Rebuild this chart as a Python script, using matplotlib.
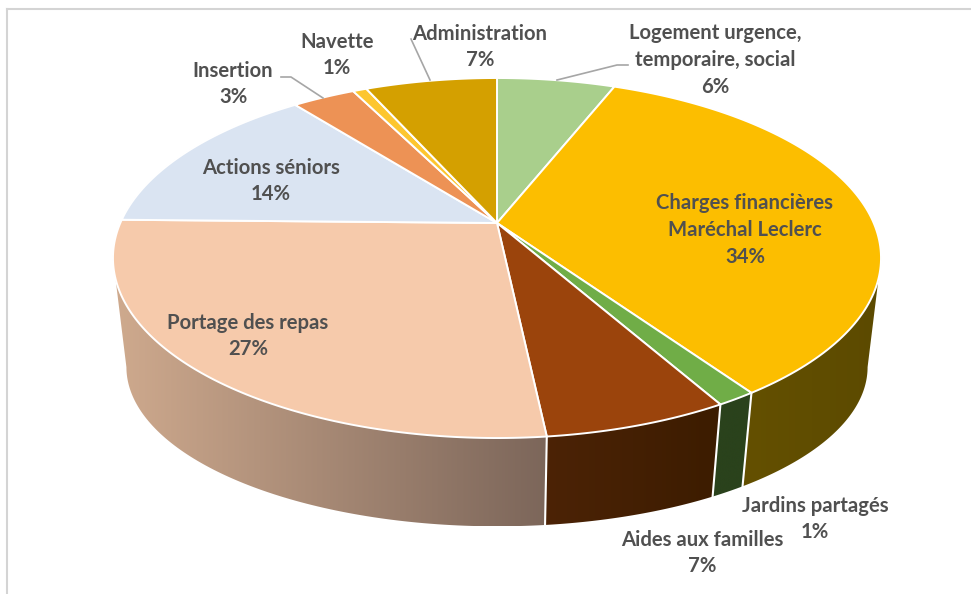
import matplotlib
matplotlib.use("Agg")
import matplotlib.pyplot as plt
from matplotlib.patches import Polygon
import numpy as np

# slices, clockwise from the top
names = ["Logement urgence,\ntemporaire, social", "Charges financières\nMaréchal Leclerc", "Jardins partagés",
         "Aides aux familles", "Portage des repas", "Actions séniors", "Insertion", "Navette", "Administration"]
shares = [6.0, 34.4, 1.4, 6.5, 27.0, 14.1, 3.2, 0.7, 6.7]
pct_labels = ["6%", "34%", "1%", "7%", "27%", "14%", "3%", "1%", "7%"]

top_colors = ["#A9CF8C", "#FCBE00", "#70AD47", "#9B440C", "#F6CAAB", "#DAE4F2", "#ED9255", "#FDC62F", "#D4A000"]
side_left = ["#6A8255", "#645000", "#2A421C", "#4C2306", "#CFAA8E", "#8A9099", "#94603A", "#9E7C20", "#846400"]
side_right = ["#6A8255", "#5C4A00", "#2A421C", "#3C1C00", "#7C665A", "#8A9099", "#94603A", "#9E7C20", "#846400"]

# pie geometry in pixels
cx, cy = 497, 223
R, S, k = 376.7, 173.2, 0.1945
rim_cy, base_cy = 258, 367
base_sx, base_sy = 0.965, 0.885
text_color = "#505050"
font = ["Lato", "DejaVu Sans"]


def rim(theta):
    u, v = np.sin(theta), -np.cos(theta)
    d = 1 - k * v
    return cx + R * u / d, cy + S * v / d


def base(x, y):
    return cx + (x - cx) * base_sx, base_cy + (y - rim_cy) * base_sy


fig = plt.figure(figsize=(9.71, 5.94), dpi=100)
ax = fig.add_axes([0, 0, 1, 1])

edges = np.radians(np.concatenate([[0], np.cumsum(shares)]) * 3.6)

# the wall only shows between the two side extremes of the rim
sweep = np.linspace(0, 2 * np.pi, 1441)
sweep_x = rim(sweep)[0]
theta_r = sweep[np.argmax(sweep_x)]
theta_l = sweep[np.argmin(sweep_x)]

for i in range(len(shares)):
    a, b = max(edges[i], theta_r), min(edges[i + 1], theta_l)
    if a >= b:
        continue
    t = np.linspace(a, b, 100)
    x, y = rim(t)
    x2, y2 = base(x, y)
    pts = np.column_stack([np.r_[x, x2[::-1]], np.r_[y, y2[::-1]]])
    poly = Polygon(pts, closed=True, fc="none", ec="none")
    ax.add_patch(poly)
    c1 = np.array(matplotlib.colors.to_rgb(side_left[i]))
    c2 = np.array(matplotlib.colors.to_rgb(side_right[i]))
    grad = np.linspace(c1, c2, 256)[np.newaxis, :, :]
    im = ax.imshow(grad, extent=(pts[:, 0].min(), pts[:, 0].max(), pts[:, 1].max(), pts[:, 1].min()),
                   aspect="auto", zorder=1)
    im.set_clip_path(poly)
    # white seam at the slice end
    if b < theta_l:
        ax.plot([x[-1], x2[-1]], [y[-1], y2[-1]], color="white", lw=1.5, zorder=2)

# top faces
for i in range(len(shares)):
    t = np.linspace(edges[i], edges[i + 1], 120)
    x, y = rim(t)
    pts = np.column_stack([np.r_[cx, x], np.r_[cy, y]])
    ax.add_patch(Polygon(pts, closed=True, fc=top_colors[i], ec="white", lw=1.4, joinstyle="round", zorder=3))

# leader lines
leaders = [([628, 617, 557], [65, 65, 80]),
           ([281, 291, 323], [77, 77, 98]),
           ([411, 430], [39, 80])]
for lx, ly in leaders:
    ax.plot(lx, ly, color="#A6A6A6", lw=1.2, zorder=4)

# labels, one text per slice
label_pos = [(715, 60), (745, 230), (815, 519), (702, 553), (248, 336), (271, 181), (233, 84), (337, 55), (480, 47)]
for name, pct, (lx, ly) in zip(names, pct_labels, label_pos):
    ax.text(lx, ly, name + "\n" + pct, ha="center", va="center", color=text_color, fontsize=14.6,
            fontweight="bold", family=font, linespacing=1.42, zorder=5)

# screenshot frame
ax.plot([7, 7], [594, 9], color="#D4D4D4", lw=1.5, zorder=0)
ax.plot([7, 971], [9, 9], color="#D4D4D4", lw=1.5, zorder=0)

ax.set_xlim(0, 971)
ax.set_ylim(594, 0)
ax.axis("off")
fig.savefig("out.png", dpi=100)
